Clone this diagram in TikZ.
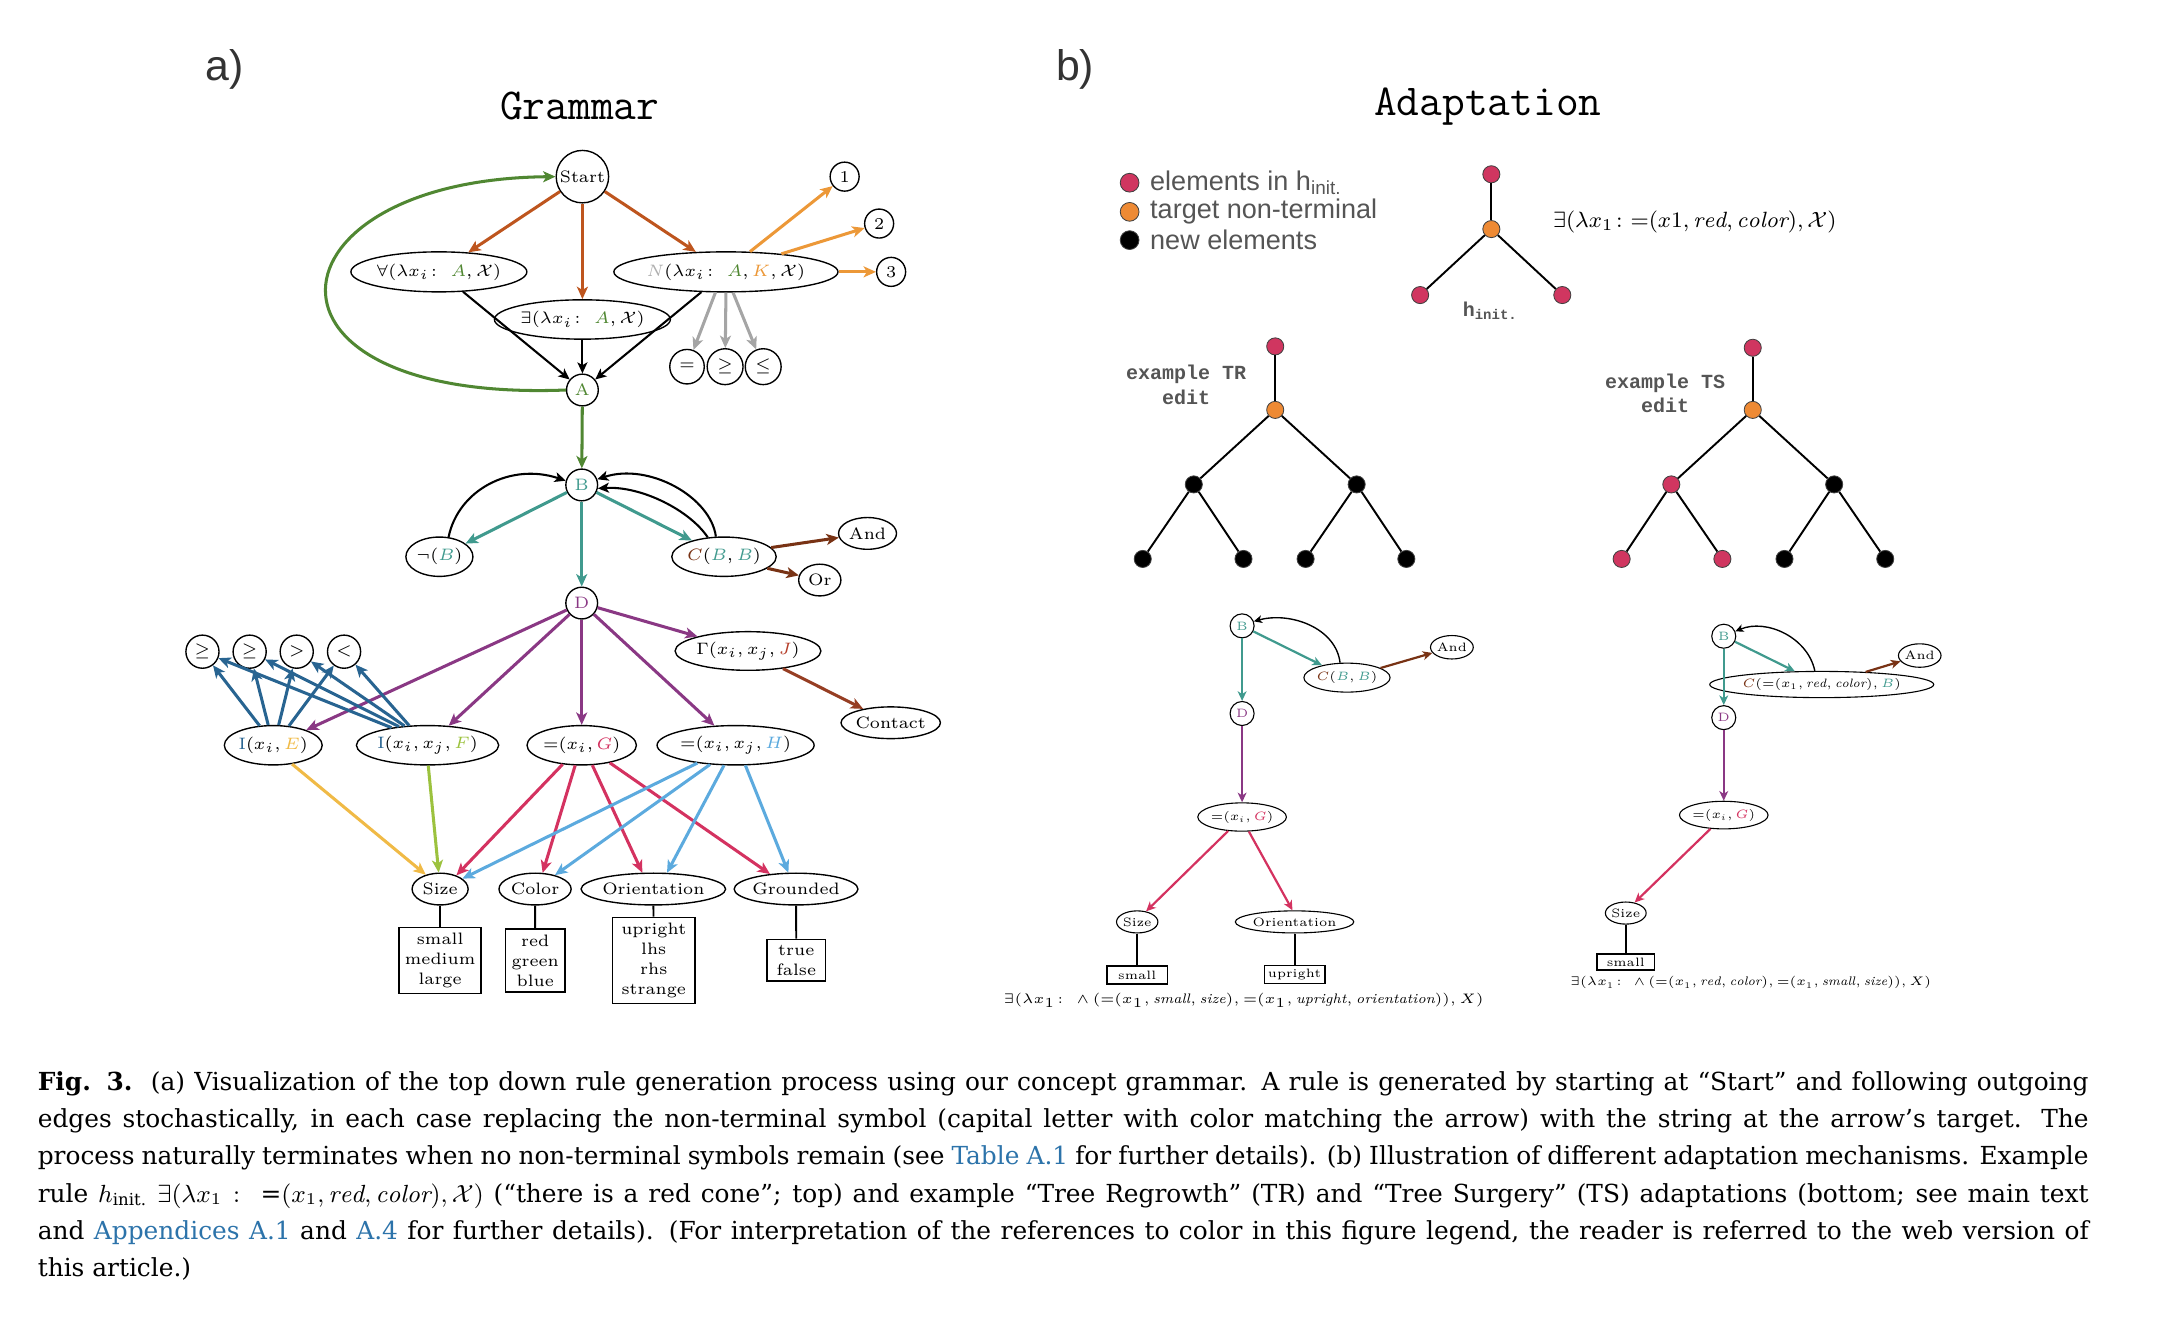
\RequirePackage{fix-cm}
\documentclass[tikz,border=0pt]{standalone}
\usepackage{amsmath,amssymb}
\usepackage{fontspec}
\usetikzlibrary{shapes.geometric,arrows.meta}
\newfontfamily\capfont{DejaVu Serif}
\newfontfamily\lsans{Liberation Sans}
\newfontfamily\lmono{Liberation Mono}
\definecolor{cbrown}{RGB}{190,85,30}
\definecolor{cgreen}{RGB}{80,135,50}
\definecolor{corange}{RGB}{236,152,56}
\definecolor{cgray}{RGB}{165,165,165}
\definecolor{cteal}{RGB}{64,154,142}
\definecolor{cdbrown}{RGB}{120,50,20}
\definecolor{cbr2}{RGB}{150,62,35}
\definecolor{cpurple}{RGB}{138,56,132}
\definecolor{cblue}{RGB}{40,100,145}
\definecolor{cyellow}{RGB}{240,186,70}
\definecolor{cygreen}{RGB}{156,194,62}
\definecolor{ccrimson}{RGB}{212,50,96}
\definecolor{clblue}{RGB}{92,170,222}
\definecolor{clink}{RGB}{44,115,170}
\definecolor{ctxt}{RGB}{85,85,85}
\definecolor{cdot}{RGB}{208,54,96}
\definecolor{cdoto}{RGB}{238,138,52}
\definecolor{cJ}{RGB}{180,60,40}
\definecolor{cNg}{RGB}{175,175,175}
\newcommand\gfont{\fontsize{6}{7.25}\selectfont}
\newcommand\sfnt{\fontsize{4.4}{5.3}\selectfont}
\tikzset{
  el/.style={draw, ellipse, line width=0.5pt, inner sep=0pt, font=\gfont},
  ci/.style={draw, circle, line width=0.5pt, inner sep=0pt, font=\gfont},
  bx/.style={draw, rectangle, line width=0.6pt, inner sep=0pt, align=center, font=\gfont},
  sel/.style={draw, ellipse, line width=0.4pt, inner sep=0pt, font=\sfnt},
  sci/.style={draw, circle, line width=0.4pt, inner sep=0pt, font=\sfnt},
  sbx/.style={draw, rectangle, line width=0.5pt, inner sep=0pt, font=\sfnt},
  arr/.style={-{Stealth[length=4.5pt,width=4pt,inset=1.2pt]}, line width=1.1pt},
  barr/.style={-{Stealth[length=4pt,width=3.6pt,inset=1pt]}, line width=0.75pt},
  sarr/.style={-{Stealth[length=3.5pt,width=3.2pt,inset=1pt]}, line width=0.8pt},
  sbarr/.style={-{Stealth[length=3pt,width=2.8pt,inset=0.8pt]}, line width=0.5pt},
  cline/.style={line width=0.7pt},
  tdot/.style={circle, draw=black!75, line width=0.3pt, inner sep=0pt, minimum size=6.2pt},
  tline/.style={line width=0.7pt},
}
\begin{document}
\begin{tikzpicture}[x=0.5pt,y=-0.5pt]
\useasboundingbox (0,0) rectangle (1568,961);
% ---------------- titles
\node[font=\lsans\fontsize{15.5}{17}\selectfont, text=black!80] (ta) at (163,50) {a)};
\node[font=\lsans\fontsize{15.5}{17}\selectfont, text=black!80] (tb) at (779,50) {b)};
\node[font=\ttfamily\fontsize{16}{18}\selectfont] (tg) at (420,77) {Grammar};
\node[font=\ttfamily\fontsize{16}{18}\selectfont] (tad) at (1078,77) {Adaptation};
% ---------------- grammar nodes
\node[ci, minimum size=19pt] (start) at (422,128) {Start};
\node[el, minimum width=54.5pt, minimum height=14.5pt] (fa) at (318,197) {$\forall(\lambda x_i\colon\ {\color{cgreen}A}, \mathcal{X})$};
\node[el, minimum width=54.5pt, minimum height=14.25pt] (ex) at (422,231.5) {$\exists(\lambda x_i\colon\ {\color{cgreen}A}, \mathcal{X})$};
\node[el, minimum width=69.5pt, minimum height=14.5pt] (nn) at (526,197) {${\color{cNg}N}(\lambda x_i\colon\ {\color{cgreen}A}, {\color{corange}K}, \mathcal{X})$};
\node[ci, minimum size=10.5pt] (n1) at (612,128) {1};
\node[ci, minimum size=10.5pt] (n2) at (637,162) {2};
\node[ci, minimum size=10.5pt] (n3) at (645.7,197) {3};
\node[ci, minimum size=12.5pt] (eq) at (497.8,265.7) {$=$};
\node[ci, minimum size=13pt] (ge) at (525.4,265.7) {$\geq$};
\node[ci, minimum size=13pt] (le) at (553,265.7) {$\leq$};
\node[ci, minimum size=11.5pt, text=cgreen] (A) at (422,282.6) {A};
\node[ci, minimum size=11.5pt, text=cteal] (B) at (421.5,351.4) {B};
\node[el, minimum width=24.3pt, minimum height=14.25pt] (negB) at (318.4,403.4) {$\neg({\color{cteal}B})$};
\node[el, minimum width=36.4pt, minimum height=14.25pt] (CBB) at (524.6,403.4) {${\color{cdbrown}C}({\color{cteal}B},{\color{cteal}B})$};
\node[el, minimum width=21pt, minimum height=11.5pt] (and) at (628.6,386.5) {And};
\node[el, minimum width=15.3pt, minimum height=11.5pt] (or) at (594,420.3) {Or};
\node[ci, minimum size=11.5pt, text=cpurple] (D) at (421.5,437) {D};
\node[el, minimum width=46.8pt, minimum height=14pt] (gam) at (542,471.7) {$\Gamma(x_i, x_j, {\color{cJ}J})$};
\node[el, minimum width=35pt, minimum height=11.5pt] (contact) at (645.4,523.7) {Contact};
\node[ci, minimum size=12pt] (g1) at (146.7,472.2) {$\geq$};
\node[ci, minimum size=12pt] (g2) at (180.9,472.2) {$\geq$};
\node[ci, minimum size=12pt] (gt) at (215,472.2) {$>$};
\node[ci, minimum size=12pt] (lt) at (249.3,472.2) {$<$};
\node[el, minimum width=33.35pt, minimum height=14.25pt] (I1) at (198,540) {${\color{cblue}\mathrm{I}}(x_i, {\color{cyellow}E})$};
\node[el, minimum width=45.5pt, minimum height=14.25pt] (I2) at (309.8,540) {${\color{cblue}\mathrm{I}}(x_i, x_j, {\color{cygreen}F})$};
\node[el, minimum width=37.8pt, minimum height=14.25pt] (G) at (421.5,540) {${=}(x_i, {\color{ccrimson}G})$};
\node[el, minimum width=50.85pt, minimum height=14.25pt] (H) at (533,540) {${=}(x_i, x_j, {\color{clblue}H})$};
\node[el, minimum width=20.3pt, minimum height=11.5pt] (size) at (318.9,644.2) {Size};
\node[el, minimum width=26.15pt, minimum height=11.5pt] (color) at (387.7,644.2) {Color};
\node[el, minimum width=48.5pt, minimum height=11.5pt] (orient) at (473.4,644.2) {Orientation};
\node[el, minimum width=42.9pt, minimum height=11.5pt] (ground) at (576.8,644.2) {Grounded};
\node[bx, minimum width=29.75pt, minimum height=23.9pt] (bsize) at (318.9,696) {small\\medium\\large};
\node[bx, minimum width=21.65pt, minimum height=22.85pt] (bcolor) at (387.8,696) {red\\green\\blue};
\node[bx, minimum width=29.9pt, minimum height=31.15pt] (borient) at (473.7,696) {upright\\lhs\\rhs\\strange};
\node[bx, minimum width=21.25pt, minimum height=15.1pt] (bground) at (577,695.8) {true\\false};
% ---------------- grammar edges
\draw[arr, cbrown] (start) -- (fa);
\draw[arr, cbrown] (start) -- (ex);
\draw[arr, cbrown] (start) -- (nn);
\draw[barr] (fa) -- (A);
\draw[barr] (ex) -- (A);
\draw[barr] (nn) -- (A);
\draw[arr, corange] (nn.40) -- (n1);
\draw[arr, corange] (nn.18) -- (n2);
\draw[arr, corange] (nn.east) -- (n3);
\draw[arr, cgray] (nn.-117) -- (eq);
\draw[arr, cgray] (nn.-90) -- (ge);
\draw[arr, cgray] (nn.-71) -- (le);
\draw[arr, cgreen] (A.west) .. controls (170,292) and (190,130) .. (start.west);
\draw[arr, cgreen] (A) -- (B);
\draw[arr, cteal] (B) -- (negB);
\draw[arr, cteal] (B) -- (CBB);
\draw[arr, cteal] (B) -- (D);
\draw[barr] (negB.65) .. controls (332,355) and (370,335) .. (B.165);
\draw[barr] (CBB.112) .. controls (515,360) and (470,335) .. (B.20);
\draw[barr] (CBB.130) .. controls (500,370) and (465,352) .. (B.-12);
\draw[arr, cdbrown] (CBB.11) -- (and);
\draw[arr, cdbrown] (CBB.-15) -- (or);
\draw[arr, cpurple] (D) -- (I1);
\draw[arr, cpurple] (D) -- (I2);
\draw[arr, cpurple] (D) -- (G);
\draw[arr, cpurple] (D) -- (H);
\draw[arr, cpurple] (D) -- (gam);
\draw[arr, cbr2] (gam) -- (contact);
\draw[arr, cblue] (I1.125) -- (g1);
\draw[arr, cblue] (I1.104) -- (g2);
\draw[arr, cblue] (I1.75) -- (gt);
\draw[arr, cblue] (I1.51) -- (lt);
\draw[arr, cblue] (I2.154) -- (g1);
\draw[arr, cblue] (I2.147) -- (g2);
\draw[arr, cblue] (I2.140) -- (gt);
\draw[arr, cblue] (I2.133) -- (lt);
\draw[arr, cyellow] (I1.-45) -- (size.135);
\draw[arr, cygreen] (I2.-88) -- (size.95);
\draw[arr, ccrimson] (G.-135) -- (size.40);
\draw[arr, ccrimson] (G.-108) -- (color.65);
\draw[arr, ccrimson] (G.-62) -- (orient.124);
\draw[arr, ccrimson] (G.-32) -- (ground.150);
\draw[arr, clblue] (H.-155) -- (size.25);
\draw[arr, clblue] (H.-143) -- (color.35);
\draw[arr, clblue] (H.-120) -- (orient.50);
\draw[arr, clblue] (H.-64) -- (ground.115);
\draw[cline] (size) -- (bsize);
\draw[cline] (color) -- (bcolor);
\draw[cline] (orient) -- (borient);
\draw[cline] (ground) -- (bground);
% ---------------- legend
\node[tdot, fill=cdot, minimum size=6.8pt] (l1) at (818.5,132.4) {};
\node[tdot, fill=cdoto, minimum size=6.8pt] (l2) at (818.5,153.5) {};
\node[tdot, fill=black, minimum size=6.8pt] (l3) at (818.5,174) {};
\node[anchor=west, inner sep=0pt, font=\lsans\fontsize{9.8}{11}\selectfont, text=ctxt] (lt1) at (833,132.4) {elements in h$_{\text{init.}}$};
\node[anchor=west, inner sep=0pt, font=\lsans\fontsize{9.8}{11}\selectfont, text=ctxt] (lt2) at (833,153.5) {target non-terminal};
\node[anchor=west, inner sep=0pt, font=\lsans\fontsize{9.8}{11}\selectfont, text=ctxt] (lt3) at (833,174) {new elements};
% ---------------- h_init tree
\node[tdot, fill=cdot] (r0) at (1080.6,126.3) {};
\node[tdot, fill=cdoto] (r1) at (1080.6,166) {};
\node[tdot, fill=cdot] (r2) at (1029,213.8) {};
\node[tdot, fill=cdot] (r3) at (1132,213.8) {};
\draw[tline] (r0) -- (r1);
\draw[tline] (r1) -- (r2);
\draw[tline] (r1) -- (r3);
\node[font=\lmono\bfseries\fontsize{7.25}{9}\selectfont, text=ctxt] (hl) at (1080,225) {h$_{\text{init.}}$};
\node[font=\fontsize{8}{10}\selectfont] (hf) at (1228,161) {$\exists(\lambda x_1\colon \text{=}(x1, \mathit{red}, \mathit{color}), \mathcal{X})$};
% ---------------- TR tree
\node[align=center, font=\lmono\bfseries\fontsize{7.25}{9}\selectfont, text=ctxt] (trl) at (859.5,279) {example TR\\edit};
\node[tdot, fill=cdot] (t0) at (924,251) {};
\node[tdot, fill=cdoto] (t1) at (924,297) {};
\node[tdot, fill=black] (t2) at (865,351) {};
\node[tdot, fill=black] (t3) at (983,351) {};
\node[tdot, fill=black] (t4) at (828,405) {};
\node[tdot, fill=black] (t5) at (901,405) {};
\node[tdot, fill=black] (t6) at (946,405) {};
\node[tdot, fill=black] (t7) at (1019,405) {};
\draw[tline] (t0) -- (t1);
\draw[tline] (t1) -- (t2);
\draw[tline] (t1) -- (t3);
\draw[tline] (t2) -- (t4);
\draw[tline] (t2) -- (t5);
\draw[tline] (t3) -- (t6);
\draw[tline] (t3) -- (t7);
% ---------------- TS tree
\node[align=center, font=\lmono\bfseries\fontsize{7.25}{9}\selectfont, text=ctxt] (tsl) at (1206.5,285) {example TS\\edit};
\node[tdot, fill=cdot] (s0) at (1270,252) {};
\node[tdot, fill=cdoto] (s1) at (1270,297) {};
\node[tdot, fill=cdot] (s2) at (1211,351) {};
\node[tdot, fill=black] (s3) at (1329,351) {};
\node[tdot, fill=cdot] (s4) at (1175,405) {};
\node[tdot, fill=cdot] (s5) at (1248,405) {};
\node[tdot, fill=black] (s6) at (1293,405) {};
\node[tdot, fill=black] (s7) at (1366,405) {};
\draw[tline] (s0) -- (s1);
\draw[tline] (s1) -- (s2);
\draw[tline] (s1) -- (s3);
\draw[tline] (s2) -- (s4);
\draw[tline] (s2) -- (s5);
\draw[tline] (s3) -- (s6);
\draw[tline] (s3) -- (s7);
% ---------------- TR example derivation
\node[sci, minimum size=8.7pt, text=cteal] (sB) at (900,453.5) {B};
\node[sel, minimum width=27pt, minimum height=10.5pt] (sC) at (976,491) {${\color{cdbrown}C}({\color{cteal}B},{\color{cteal}B})$};
\node[sel, minimum width=15.5pt, minimum height=8.5pt] (sAnd) at (1052,469) {And};
\node[sci, minimum size=8.7pt, text=cpurple] (sD) at (900,517) {D};
\node[sel, minimum width=28pt, minimum height=10.25pt] (sG) at (900,592) {${=}(x_i, {\color{ccrimson}G})$};
\node[sel, minimum width=15pt, minimum height=8pt] (sSize) at (824,668) {Size};
\node[sel, minimum width=35.75pt, minimum height=8pt] (sOr) at (938,668) {Orientation};
\node[sbx, minimum width=22pt, minimum height=6.5pt] (sbs) at (824,706.5) {small};
\node[sbx, minimum width=22pt, minimum height=6.5pt] (sbu) at (938,706) {upright};
\draw[sarr, cteal] (sB) -- (sC);
\draw[sarr, cteal] (sB) -- (sD);
\draw[sbarr] (sC.115) .. controls (968,455) and (935,443) .. (sB.21);
\draw[sarr, cdbrown] (sC.16) -- (sAnd);
\draw[sarr, cpurple] (sD) -- (sG);
\draw[sarr, ccrimson] (sG.-135) -- (sSize.50);
\draw[sarr, ccrimson] (sG.-65) -- (sOr.100);
\draw[cline] (sSize) -- (sbs);
\draw[cline] (sOr) -- (sbu);
\node[font=\fontsize{5}{6}\selectfont] (ftr) at (901,725) {$\exists(\lambda x_1\colon\ {\wedge}\,(\text{=}(x_1, \mathit{small}, \mathit{size}), \text{=}(x_1, \mathit{upright}, \mathit{orientation})), X)$};
% ---------------- TS example derivation
\node[sci, minimum size=8.7pt, text=cteal] (uB) at (1249,461) {B};
\node[sel, minimum width=63pt, minimum height=9.5pt] (uC) at (1320,496) {${\color{cdbrown}C}({=}(x_1, \mathit{red}, \mathit{color}), {\color{cteal}B})$};
\node[sel, minimum width=14.75pt, minimum height=8.5pt] (uAnd) at (1391,475) {And};
\node[sci, minimum size=8.7pt, text=cpurple] (uD) at (1249,520) {D};
\node[sel, minimum width=26pt, minimum height=10pt] (uG) at (1249,590.6) {${=}(x_i, {\color{ccrimson}G})$};
\node[sel, minimum width=14.5pt, minimum height=8pt] (uSize) at (1178,661.6) {Size};
\node[sbx, minimum width=20.75pt, minimum height=5.8pt] (ubs) at (1178,697) {small};
\draw[sarr, cteal] (uB) -- (uC);
\draw[sarr, cteal] (uB) -- (uD);
\draw[sbarr] (uC.117) .. controls (1310,462) and (1280,448) .. (uB.23);
\draw[sarr, cdbrown] (uC.16) -- (uAnd);
\draw[sarr, cpurple] (uD) -- (uG);
\draw[sarr, ccrimson] (uG.-134) -- (uSize.50);
\draw[cline] (uSize) -- (ubs);
\node[font=\fontsize{4.5}{6}\selectfont] (fts) at (1268.5,712) {$\exists(\lambda x_1\colon\ {\wedge}\,(\text{=}(x_1, \mathit{red}, \mathit{color}), \text{=}(x_1, \mathit{small}, \mathit{size})), X)$};
% ---------------- caption
\node[anchor=north west, inner sep=0pt, text width=743pt, align=justify, font=\capfont\fontsize{9}{13.5}\selectfont] (cap) at (27,776) {\textbf{Fig. 3.}\ \ (a) Visualization of the top down rule generation process using our concept grammar. A rule is generated by starting at “Start” and following outgoing\linebreak
edges stochastically, in each case replacing the non-terminal symbol (capital letter with color matching the arrow) with the string at the arrow’s target. The\linebreak
process naturally terminates when no non-terminal symbols remain (see \textcolor{clink}{Table A.1} for further details). (b) Illustration of different adaptation mechanisms. Example\linebreak
rule $h_{\text{init.}}$ $\exists(\lambda x_1:\ \text{=}(x_1, \mathit{red}, \mathit{color}), \mathcal{X})$ (“there is a red cone”; top) and example “Tree Regrowth” (TR) and “Tree Surgery” (TS) adaptations (bottom; see main text\linebreak
and \textcolor{clink}{Appendices A.1} and \textcolor{clink}{A.4} for further details). (For interpretation of the references to color in this figure legend, the reader is referred to the web version of\linebreak
this article.)};
\end{tikzpicture}
\end{document}
